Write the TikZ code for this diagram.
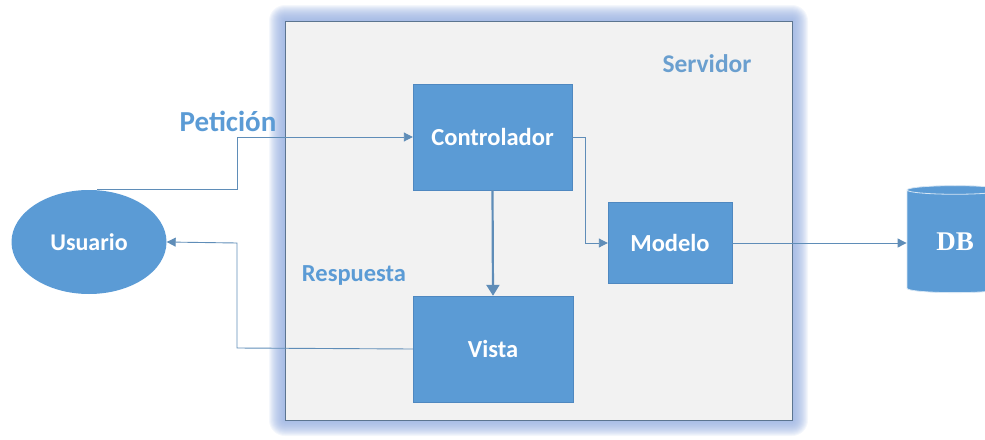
\documentclass[tikz,border=0pt]{standalone}
\usepackage{fontspec}
\setmainfont{Carlito}
\newfontfamily\dbfont{Liberation Serif}
\usetikzlibrary{arrows.meta,shapes.geometric}

\definecolor{boxblue}{HTML}{5B9BD5}
\definecolor{boxedge}{HTML}{4F88C0}
\definecolor{linecol}{HTML}{5F8DB8}
\definecolor{labelblue}{HTML}{5B9BD5}
\definecolor{srvlabel}{HTML}{6A9FCF}
\definecolor{glowblue}{HTML}{96AFE0}
\definecolor{framefill}{HTML}{F2F2F2}
\definecolor{frameedge}{HTML}{5C7590}

\tikzset{
  mvcbox/.style={rectangle, fill=boxblue, draw=boxedge, line width=0.4pt,
    text=white, font=\fontsize{24.5}{26}\selectfont\bfseries, inner sep=0pt},
  link/.style={draw=linecol, line width=0.9pt,
    -{Triangle[length=9pt,width=9pt]}, shorten >=0pt},
  flowlabel/.style={text=labelblue, font=\fontsize{24.5}{26}\selectfont\bfseries, inner sep=0pt},
}

\begin{document}
\begin{tikzpicture}[x=1pt,y=-1pt]
\useasboundingbox (0,0) rectangle (985,439);

% soft blue glow round the server frame
\foreach \i in {16,15,...,1}
  \fill[glowblue, opacity=0.1, rounded corners=\i pt]
    ({285-\i},{21-\i}) rectangle ({792+\i},{420+\i});

% server frame
\draw[frameedge, fill=framefill, line width=1pt] (285,21) rectangle (792,420);
\node[text=srvlabel, font=\fontsize{25.5}{27}\selectfont\bfseries, inner sep=0pt]
  (srv) at (707,64) {Servidor};

% components
\node[mvcbox, minimum width=159pt, minimum height=106pt] (ctrl) at (492.5,137) {Controlador};
\node[mvcbox, minimum width=124pt, minimum height=81pt]  (model) at (670,242.5) {Modelo};
\node[mvcbox, minimum width=160pt, minimum height=106pt] (view) at (493,349) {Vista};

\node[ellipse, fill=boxblue, draw=none, minimum width=155pt, minimum height=104pt,
  text=white, font=\fontsize{24}{26}\selectfont\bfseries, inner sep=0pt]
  (user) at (89,242) {Usuario};

\node[cylinder, shape border rotate=90, aspect=0.23, fill=boxblue,
  draw=white!75!boxblue, line width=0.8pt,
  minimum width=96pt, minimum height=107pt, inner sep=0pt,
  text=white, font=\dbfont\fontsize{27}{29}\selectfont\bfseries]
  (db) at (955,241.5) {DB};

% labels on the request / response paths
\node[flowlabel, font=\fontsize{29}{31}\selectfont\bfseries] (req) at (228,121) {Petición};
\node[flowlabel] (resp) at (354,275) {Respuesta};

% connectors
\coordinate (reqA) at (97,189);
\draw[link] (reqA) -- (237,189) -- (237,137) -- (ctrl.west);
\draw[link] (view.west) -- (237,348) -- (237,243) -- (user.east);
\draw[draw=linecol, line width=2.2pt, -{Triangle[length=11pt,width=13pt]}]
  (ctrl.south) -- (view.north);
\draw[link] (ctrl.east |- 0,137) -- (585,137) -- (585,243) -- (model.west |- 0,243);
\draw[link] (model.east |- 0,243) -- (db.west |- 0,243);
\end{tikzpicture}
\end{document}
